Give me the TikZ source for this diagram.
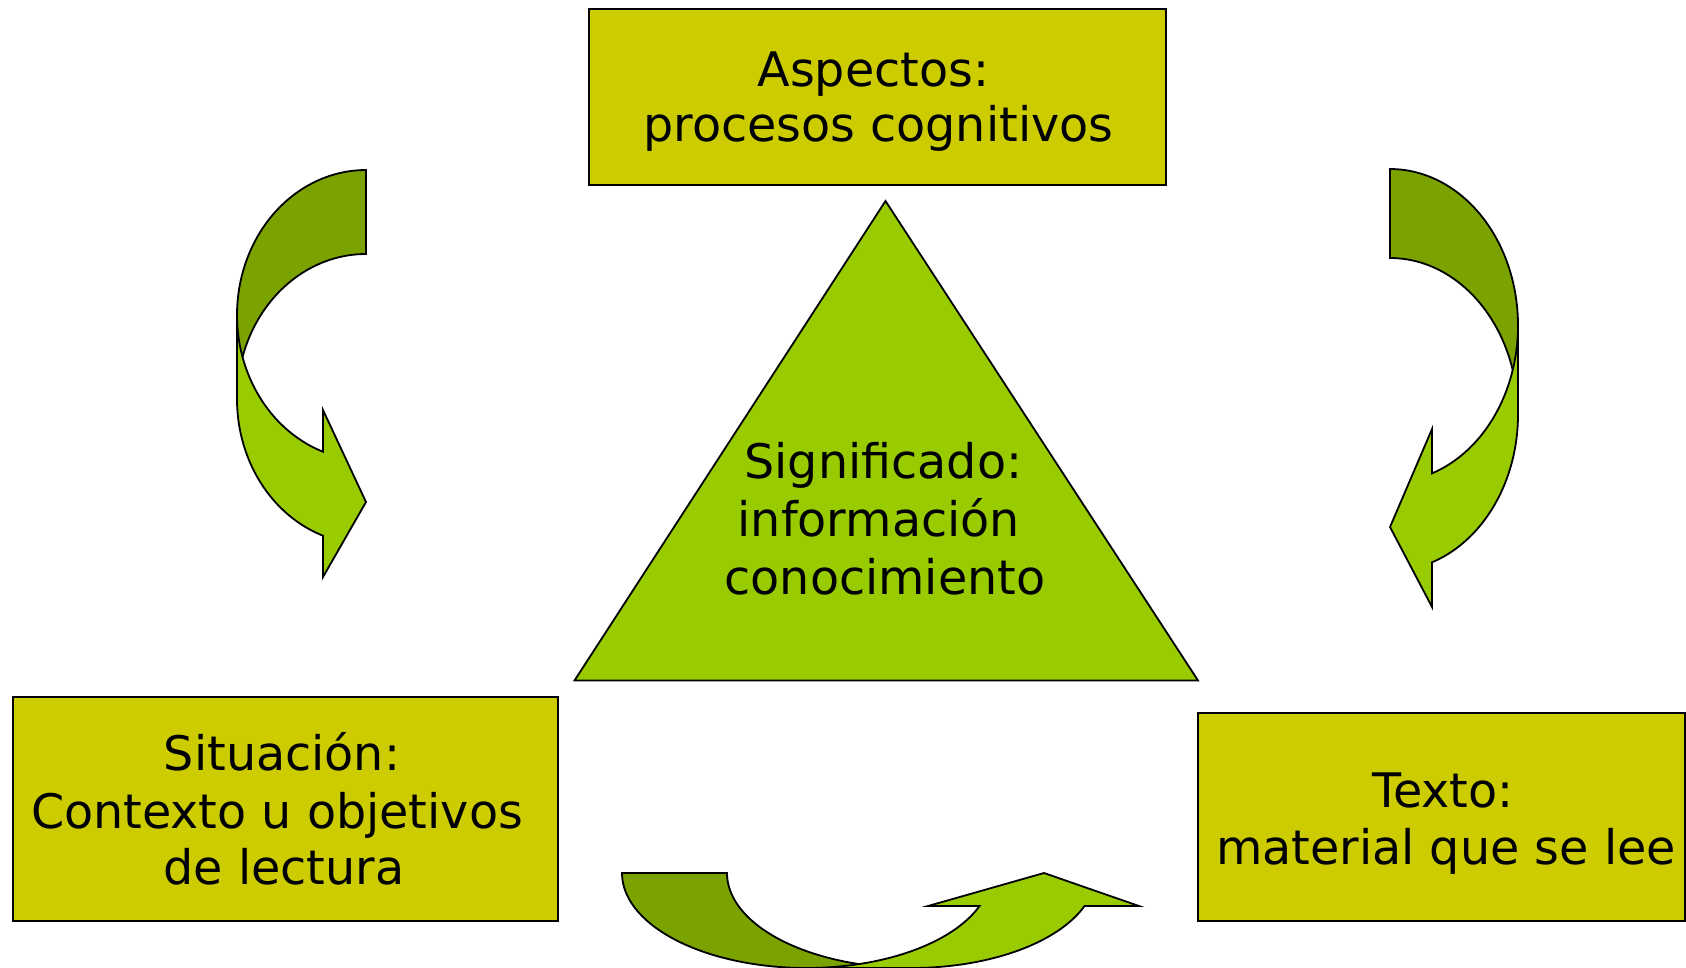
\documentclass[tikz,border=0pt]{standalone}
\usepackage{fontspec}
\setmainfont{DejaVu Sans}
\definecolor{boxfill}{RGB}{204,204,0}
\definecolor{lightgreen}{RGB}{153,204,0}
\definecolor{darkgreen}{RGB}{122,163,0}
\tikzset{
  boxst/.style={draw=black, line width=1.8pt, fill=boxfill, rectangle, inner sep=0pt},
  trist/.style={draw=black, line width=1.8pt, fill=lightgreen, line join=miter},
  backband/.style={draw=black, line width=1.8pt, fill=darkgreen},
  frontband/.style={draw=black, line width=1.8pt, fill=lightgreen},
  lbl/.style={anchor=base, inner sep=0pt, font=\fontsize{47.6}{57}\selectfont, text=black}
}
\begin{document}
\begin{tikzpicture}[x=1pt,y=-1pt]
\useasboundingbox (0,0) rectangle (1686,967);
\fill[white] (0,0) rectangle (1686,967);

% boxes
\node[boxst, minimum width=577pt, minimum height=176pt] (aspectos) at (877.5,97) {};
\node[boxst, minimum width=545pt, minimum height=224pt] (situacion) at (285.5,809) {};
\node[boxst, minimum width=487pt, minimum height=208pt] (texto) at (1441.5,817) {};

% triangle
\coordinate (tA) at (885.5,201);
\coordinate (tB) at (574.5,680.5);
\coordinate (tC) at (1198,680.5);
\draw[trist] (tA) -- (tB) -- (tC) -- cycle;

% left curved arrow (back part)
\draw[backband] (366,170)
  -- plot[domain=-90:-180, samples=60] ({366+129*cos(\x)},{315+145*sin(\x)})
  -- (237,399)
  -- plot[domain=-180:-90, samples=60] ({366+129*cos(\x)},{399+145*sin(\x)})
  -- cycle;
% left curved arrow (front part)
\draw[frontband] (237,315) -- (237,399)
  -- plot[domain=180:109.5, samples=60] ({366+129*cos(\x)},{399+145*sin(\x)})
  -- (323,577) -- (366,502) -- (323,410)
  -- plot[domain=109.5:180, samples=60] ({366+129*cos(\x)},{315+145*sin(\x)})
  -- cycle;

% right curved arrow (back part)
\draw[backband] (1390,169)
  -- plot[domain=-90:0, samples=60] ({1390+128*cos(\x)},{325.5+156.5*sin(\x)})
  -- (1518,414.5)
  -- plot[domain=0:-90, samples=60] ({1390+128*cos(\x)},{414.5+156.5*sin(\x)})
  -- cycle;
% right curved arrow (front part)
\draw[frontband] (1518,325.5) -- (1518,414.5)
  -- plot[domain=0:70.85, samples=60] ({1390+128*cos(\x)},{414.5+156.5*sin(\x)})
  -- (1432,607) -- (1390,527) -- (1432,429)
  -- plot[domain=70.85:0, samples=60] ({1390+128*cos(\x)},{325.5+156.5*sin(\x)})
  -- cycle;

% bottom curved arrow (back part)
\draw[backband] (622,873)
  -- plot[domain=180:90, samples=60] ({806.5+184.5*cos(\x)},{873+95*sin(\x)})
  -- (911.5,968)
  -- plot[domain=90:180, samples=60] ({911.5+184.5*cos(\x)},{873+95*sin(\x)})
  -- cycle;
% bottom curved arrow (front part)
\draw[frontband] (806.5,968) -- (911.5,968)
  -- plot[domain=90:20.3, samples=60] ({911.5+184.5*cos(\x)},{873+95*sin(\x)})
  -- (1139,906) -- (1044,873) -- (928,906)
  -- plot[domain=20.3:90, samples=60] ({806.5+184.5*cos(\x)},{873+95*sin(\x)})
  -- cycle;

% texts
\node[lbl] (asp1) at (873.3,86.7) {Aspectos:};
\node[lbl] (asp2) at (878.3,141.7) {procesos cognitivos};
\node[lbl] (sig1) at (883.3,478.3) {Significado:};
\node[lbl] (sig2) at (878.7,536) {información};
\node[lbl] (sig3) at (885,594.3) {conocimiento};
\node[lbl] (sit1) at (282,770.7) {Situación:};
\node[lbl] (sit2) at (277,828) {Contexto u objetivos};
\node[lbl] (sit3) at (284,884.5) {de lectura};
\node[lbl] (tex1) at (1443,807.3) {Texto:};
\node[lbl] (tex2) at (1446,864.3) {material que se lee};
\end{tikzpicture}
\end{document}
